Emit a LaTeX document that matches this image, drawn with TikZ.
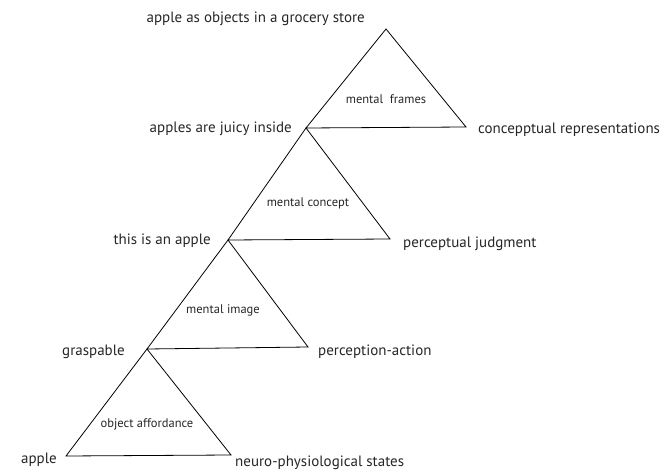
\documentclass[tikz,border=0pt]{standalone}
\usepackage{fontspec}
\setmainfont{PT Sans}
\usepackage{tikz}
\usetikzlibrary{positioning}

\tikzset{
  tri/.style={black, line width=0.8pt, line join=miter},
  vlabel/.style={font=\fontsize{15}{17}\selectfont, inner sep=0pt, text=black!85},
  ilabel/.style={font=\fontsize{12.5}{14}\selectfont, inner sep=0pt, text=black!85}
}

\begin{document}
\begin{tikzpicture}[x=1pt, y=-1pt]
  \useasboundingbox (0, 0) rectangle (664, 470);

  % corners of the four triangles
  \coordinate (base) at (66, 456);
  \coordinate (neuro) at (231, 455);
  \coordinate (grasp) at (147, 349);
  \coordinate (percact) at (308, 347);
  \coordinate (isapple) at (228, 240);
  \coordinate (judge) at (390, 239);
  \coordinate (juicy) at (306, 128);
  \coordinate (concrep) at (466, 127);
  \coordinate (grocery) at (386, 29);

  \foreach \l/\t/\r in {base/grasp/neuro, grasp/isapple/percact, isapple/juicy/judge, juicy/grocery/concrep} {
    \draw[tri] (\l) -- (\t) -- (\r) -- cycle;
  }

  \node[ilabel] (affordance) at (147, 424) {object affordance};
  \node[ilabel] (image) at (223, 310) {mental image};
  \node[ilabel] (concept) at (308, 203) {mental concept};
  \node[ilabel] (frames) at (386, 99) {mental\ \ frames};

  \node[vlabel, anchor=east] (lapple) at (57, 460) {apple};
  \node[vlabel, anchor=east] (lgrasp) at (125, 352) {graspable};
  \node[vlabel, anchor=east] (lisapple) at (211, 241) {this is an apple};
  \node[vlabel, anchor=east] (ljuicy) at (292, 129) {apples are juicy inside};
  \node[vlabel, anchor=east] (lgrocery) at (365, 19) {apple as objects in a grocery store};

  \node[vlabel, anchor=west] (lneuro) at (235, 463) {neuro-physiological states};
  \node[vlabel, anchor=west] (lpercact) at (318, 352) {perception-action};
  \node[vlabel, anchor=west] (ljudge) at (403, 244) {perceptual judgment};
  \node[vlabel, anchor=west] (lconcrep) at (478, 130) {concepptual representations};
\end{tikzpicture}
\end{document}
